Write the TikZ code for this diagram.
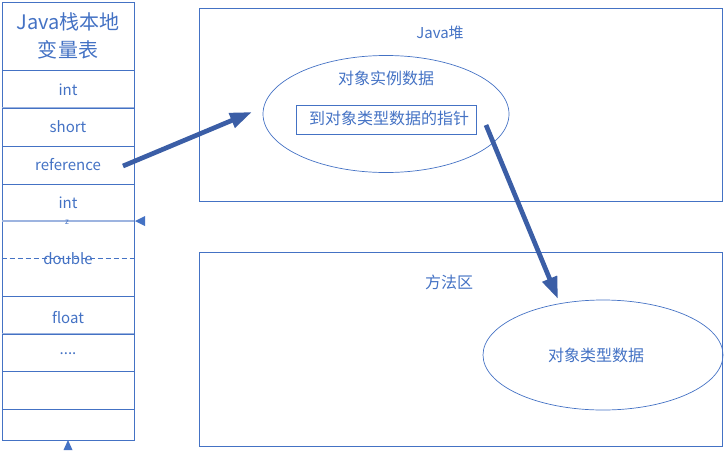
\documentclass[tikz,border=0pt]{standalone}
\usepackage{fontspec}
\setmainfont{Noto Sans CJK SC}
\usetikzlibrary{arrows.meta,shapes.geometric}
\definecolor{lb}{HTML}{4472C4}
\definecolor{llb}{HTML}{9DB4E0}
\definecolor{db}{HTML}{3B5EA6}
\begin{document}
\begin{tikzpicture}[x=1pt,y=-1pt,
  txt/.style={text=lb,font=\fontsize{15}{18}\selectfont,inner sep=0pt,text height=12pt,text depth=4pt},
  cjk/.style={txt,font=\fontsize{16}{18}\selectfont},
  cell/.style={draw=lb,line width=0.8pt,rectangle,minimum width=132pt,inner sep=0pt},
  area/.style={draw=lb,line width=0.8pt,rectangle,minimum width=523pt,inner sep=0pt},
  oval/.style={draw=lb,line width=0.7pt,ellipse,inner sep=0pt},
  fat/.style={draw=db,line width=4.7pt,-{Triangle[length=22pt,width=15pt]}},
  tri/.style={fill=lb,draw=none}]
\useasboundingbox (0,0) rectangle (728,453);
% stack
\node[cell,minimum height=68pt,align=center,text=lb,font=\fontsize{20}{28}\selectfont] (head) at (68,36) {Java栈本地\\变量表};
\node[cell,minimum height=38pt] (int1) at (68,89) {};
\node[cell,minimum height=38pt] (short) at (68,127) {};
\node[cell,minimum height=38pt] (ref) at (68,165) {};
\node[cell,minimum height=37pt] (int2) at (68,202.5) {};
\node[cell,minimum height=75pt] (dbl) at (68,258.5) {};
\node[cell,minimum height=38pt] (flt) at (68,315) {};
\node[cell,minimum height=37pt] (dots) at (68,352.5) {};
\node[cell,minimum height=38pt] (e1) at (68,390) {};
\node[cell,minimum height=31pt] (e2) at (68,424.5) {};
\draw[llb,line width=1.6pt] (short.north west) -- (short.north east);
\draw[llb,line width=1.6pt] (dots.north west) -- (dots.north east);
\draw[llb,line width=2pt] (dbl.north west) -- (dbl.north east);
\draw[lb,line width=0.8pt,dash pattern=on 5pt off 3pt] (dbl.west) -- (dbl.east);
\node[txt] (t1) at (68,91) {int};
\node[txt] (t2) at (68,128) {short};
\node[txt] (t3) at (68,166) {reference};
\node[txt] (t4) at (68,204) {int};
\node[txt] (t5) at (68,260) {double};
\node[txt] (t6) at (68,319) {float};
\node[txt] (t7) at (68,350) {....};
\node[text=lb,font=\fontsize{8}{9}\selectfont,inner sep=0pt] (z) at (67,222) {z};
\coordinate (rt) at (135,221);
\fill[tri] (rt) -- ++(10,-5) -- ++(0,10) -- cycle;
\coordinate (bt) at (68,440);
\fill[tri] (bt) -- ++(4.5,10) -- ++(-9,0) -- cycle;
% heap
\node[area,minimum height=193pt] (heap) at (460.5,104.5) {};
\node[txt] (heaplbl) at (440,34) {Java堆};
\node[oval,minimum width=246pt,minimum height=117pt] (obj) at (386,114) {};
\node[cjk] (objlbl) at (386,80) {对象实例数据};
\node[draw=lb,line width=0.8pt,rectangle,minimum width=180pt,minimum height=29pt,inner sep=0pt] (ptr) at (386.7,119.5) {};
\node[cjk] (ptrlbl) at (389,120.5) {到对象类型数据的指针};
% method area
\node[area,minimum height=194pt] (meth) at (460.5,349) {};
\node[cjk] (methlbl) at (449,284) {方法区};
\node[oval,minimum width=240pt,minimum height=110pt] (typ) at (603,355) {};
\node[cjk] (typlbl) at (596,357) {对象类型数据};
% arrows
\coordinate (a1s) at (123,166);
\coordinate (a1e) at (252,112);
\coordinate (a2s) at (486,125);
\coordinate (a2e) at (558,299);
\draw[fat] (a1s) -- (a1e);
\draw[fat] (a2s) -- (a2e);
\end{tikzpicture}
\end{document}
